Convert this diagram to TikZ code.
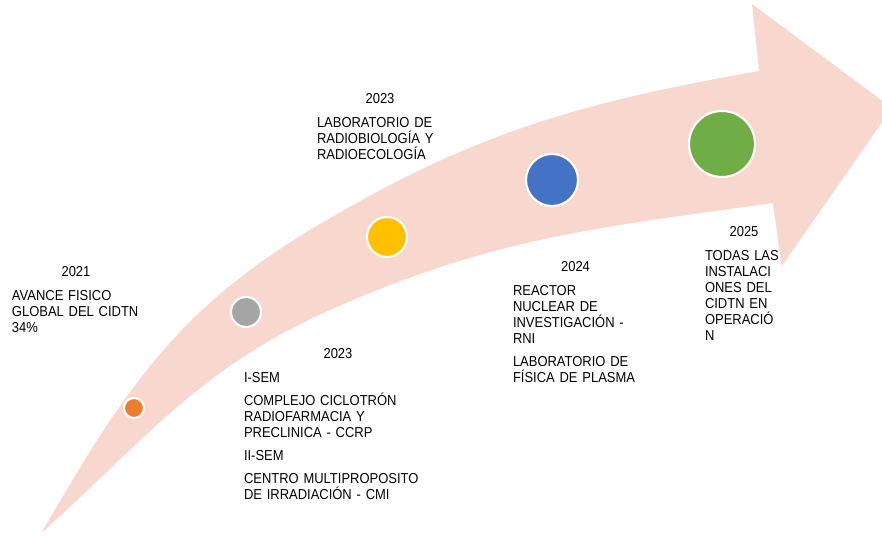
\documentclass[tikz,border=0pt]{standalone}
\usepackage{fontspec}
\setmainfont{Liberation Sans}[FakeStretch=0.9]
\usetikzlibrary{positioning}
\definecolor{arrowpink}{RGB}{248,216,206}
\definecolor{dotorange}{RGB}{237,125,49}
\definecolor{dotgray}{RGB}{165,165,165}
\definecolor{dotyellow}{RGB}{255,192,0}
\definecolor{dotblue}{RGB}{68,114,196}
\definecolor{dotgreen}{RGB}{112,173,71}

\begin{document}
\begin{tikzpicture}[node distance=5.1pt,
    yearlbl/.style={inner sep=1pt, align=center, font=\fontsize{8.2}{9.1}\selectfont},
    desc/.style={inner sep=1pt, align=left, font=\fontsize{8.2}{9.1}\selectfont},
    dot/.style={circle, draw=white, line width=1.2pt, inner sep=0pt}]
      \clip (0,0) rectangle (17.64,10.74);
      % curved arrow
      \fill[arrowpink] (0.83,0.08) to[out=60,in=211] (6.2,6.14) to[out=31,in=190] (15.18,9.32)
        -- (15.04,10.66) -- (17.84,8.58) -- (15.63,5.41) -- (15.46,6.68)
        to[out=188,in=24] (6.6,4.54) to[out=204,in=42] (0.83,0.08) -- cycle;

      % milestones
      \node[dot, fill=dotorange, minimum size=0.40cm] (d2021) at (2.68,2.58) {};
      \node[dot, fill=dotgray, minimum size=0.60cm] (d2023a) at (4.92,4.50) {};
      \node[dot, fill=dotyellow, minimum size=0.80cm] (d2023b) at (7.74,6.00) {};
      \node[dot, fill=dotblue, minimum size=1.04cm] (d2024) at (11.04,7.14) {};
      \node[dot, fill=dotgreen, minimum size=1.32cm] (d2025) at (14.44,7.86) {};

      % labels
      \node[yearlbl, text width=2.56cm] (y2021) at (1.52,5.30) {2021};
      \node[desc, below=of y2021, text width=2.56cm] (t2021) {AVANCE FISICO\\GLOBAL DEL CIDTN\\34\%};

      \node[yearlbl, text width=3.76cm] (y2023a) at (6.76,3.66) {2023};
      \node[desc, below=of y2023a, text width=3.76cm] (t2023a) {I-SEM\\[4pt]COMPLEJO CICLOTRÓN\\RADIOFARMACIA Y\\PRECLINICA - CCRP\\[4pt]II-SEM\\[4pt]CENTRO MULTIPROPOSITO\\DE IRRADIACIÓN - CMI};

      \node[yearlbl, text width=2.52cm] (y2023b) at (7.60,8.76) {2023};
      \node[desc, below=of y2023b, text width=2.52cm] (t2023b) {LABORATORIO DE\\RADIOBIOLOGÍA Y\\RADIOECOLOGÍA};

      \node[yearlbl, text width=2.5cm] (y2024) at (11.51,5.40) {2024};
      \node[desc, below=of y2024, text width=2.5cm] (t2024) {REACTOR\\NUCLEAR DE\\INVESTIGACIÓN -\\RNI\\[4pt]LABORATORIO DE\\FÍSICA DE PLASMA};

      \node[yearlbl, text width=1.56cm] (y2025) at (14.88,6.10) {2025};
      \node[desc, below=of y2025, text width=1.56cm] (t2025) {TODAS LAS\\INSTALACI\\ONES DEL\\CIDTN EN\\OPERACIÓ\\N};
    \end{tikzpicture}
\end{document}
